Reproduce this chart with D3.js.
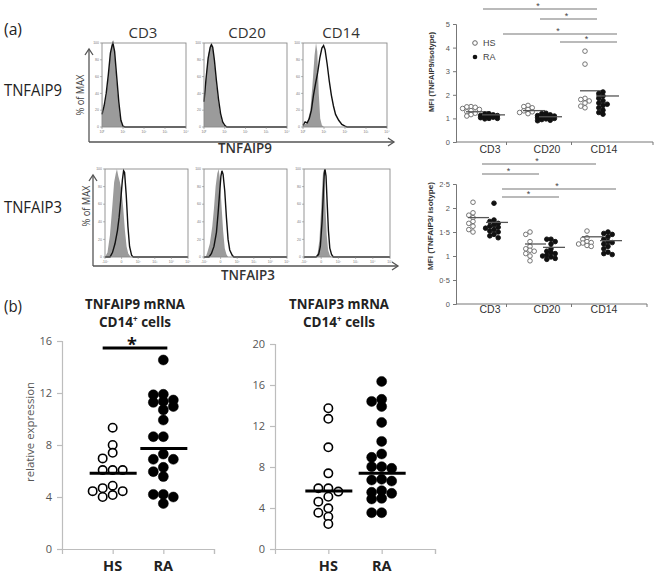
<!DOCTYPE html>
<html><head><meta charset="utf-8">
<script src="https://cdn.jsdelivr.net/npm/d3@7"></script>
<style>body{margin:0;background:#fff}svg{display:block}</style>
</head><body>
<svg id="c" width="658" height="574"></svg>
<script>
// ---------------- DATA ----------------
const cellTypes = ["CD3", "CD20", "CD14"];
const groups = ["HS", "RA"];
// Flow histograms: [decade position, % of max]
const h9_CD3_iso  = [[0,70],[0.02,15],[0.1,22],[0.2,35],[0.3,60],[0.4,85],[0.5,100],[0.58,92],[0.65,70],[0.75,40],[0.85,15],[0.95,3],[1.05,0]];
const h9_CD3_stn  = [[0,15],[0.1,25],[0.2,40],[0.3,62],[0.4,88],[0.48,97],[0.52,100],[0.6,90],[0.7,60],[0.8,30],[0.9,8],[1.0,1],[1.1,0]];
const h9_CD20_iso = [[0,30],[0.1,60],[0.2,85],[0.3,97],[0.36,100],[0.45,90],[0.55,65],[0.65,40],[0.75,20],[0.85,8],[0.95,2],[1.05,0]];
const h9_CD20_stn = [[0,30],[0.1,58],[0.2,82],[0.3,95],[0.36,98],[0.42,95],[0.5,80],[0.6,55],[0.7,33],[0.8,16],[0.9,6],[1.0,2],[1.1,0]];
const h9_CD14_iso = [[0,2],[0.2,5],[0.35,20],[0.45,50],[0.55,85],[0.62,100],[0.68,90],[0.75,40],[0.82,10],[0.9,2],[1.0,0]];
const h9_CD14_stn = [[0,2],[0.1,6],[0.2,5],[0.3,10],[0.4,20],[0.5,38],[0.6,52],[0.7,65],[0.8,82],[0.9,94],[0.98,97],[1.05,92],[1.15,75],[1.25,55],[1.35,38],[1.45,25],[1.55,15],[1.7,8],[1.85,3],[2.0,1],[2.1,0]];
const h3_CD3_iso  = [[0,0],[0.15,5],[0.3,25],[0.45,60],[0.55,85],[0.65,95],[0.72,100],[0.8,92],[0.9,85],[1.0,75],[1.1,55],[1.2,30],[1.3,12],[1.4,4],[1.55,0]];
const h3_CD3_stn  = [[0,0],[0.3,0],[0.45,5],[0.6,15],[0.75,30],[0.85,45],[0.95,65],[1.05,88],[1.12,98],[1.18,96],[1.28,70],[1.38,35],[1.48,12],[1.6,2],[1.7,0]];
const h3_CD20_iso = [[0.1,0],[0.2,5],[0.35,15],[0.5,35],[0.6,55],[0.7,80],[0.8,95],[0.88,100],[0.95,90],[1.05,60],[1.15,30],[1.25,10],[1.35,3],[1.45,0]];
const h3_CD20_stn = [[0,0],[0.3,0],[0.45,4],[0.6,12],[0.75,28],[0.85,50],[0.95,75],[1.02,92],[1.08,98],[1.15,94],[1.25,75],[1.35,45],[1.45,20],[1.55,8],[1.7,2],[1.8,0]];
const h3_CD14_iso = [[0.7,0],[0.8,5],[0.9,20],[1.0,55],[1.07,85],[1.12,100],[1.18,90],[1.25,55],[1.32,25],[1.4,8],[1.5,2],[1.6,0]];
const h3_CD14_stn = [[0,0],[0.7,0],[0.85,3],[0.95,12],[1.05,40],[1.12,70],[1.18,95],[1.22,100],[1.28,92],[1.35,60],[1.42,30],[1.5,10],[1.6,3],[1.7,0]];
const histYTicks = [0, 20, 40, 60, 80, 100];
const hist9XTicks = ["10⁰", "10¹", "10²", "10³", "10⁴"];
const hist3XTicks = ["-10²", "0", "10²", "10³", "10⁴", "10⁵"];

// MFI TNFAIP9 / isotype
const mfi9_HS = {CD3: [1.5,1.49,1.47,1.42,1.38,1.33,1.28,1.22,1.16,1.1],
                 CD20:[1.55,1.5,1.45,1.38,1.32,1.28,1.25,1.2],
                 CD14:[3.85,3.3,1.85,1.8,1.74,1.65,1.52,1.45]};
const mfi9_RA = {CD3: [1.2,1.18,1.15,1.12,1.12,1.1,1.08,1.05,1.03,1.0,1.0,0.98],
                 CD20:[1.22,1.2,1.15,1.12,1.1,1.08,1.07,1.05,1.03,1.0,0.98,0.95,0.92,0.9],
                 CD14:[2.12,2.05,1.95,1.85,1.75,1.65,1.6,1.55,1.45,1.35,1.25,1.18]};
const mfi9_meanHS = {CD3:1.28, CD20:1.33, CD14:2.17};
const mfi9_meanRA = {CD3:1.15, CD20:1.07, CD14:1.95};
const mfi9_ticks = [0,1,2,3,4,5];
// MFI TNFAIP3 / isotype
const mfi3_HS = {CD3: [2.12,1.9,1.85,1.8,1.72,1.68,1.62,1.55,1.5],
                 CD20:[1.5,1.45,1.3,1.2,1.15,1.12,1.1,1.05,1.0,0.9],
                 CD14:[1.52,1.38,1.35,1.3,1.28,1.27,1.25,1.22,1.2]};
const mfi3_RA = {CD3: [2.1,1.75,1.72,1.68,1.65,1.62,1.6,1.58,1.55,1.52,1.5,1.45,1.42,1.38],
                 CD20:[1.35,1.35,1.3,1.25,1.15,1.1,1.07,1.05,1.02,1.0,0.98,0.95,0.93],
                 CD14:[1.5,1.47,1.45,1.4,1.35,1.3,1.28,1.25,1.2,1.15,1.08,1.05,1.03]};
const mfi3_meanHS = {CD3:1.8, CD20:1.25, CD14:1.4};
const mfi3_meanRA = {CD3:1.7, CD20:1.18, CD14:1.32};
const mfi3_ticks = [0,0.5,1,1.5,2,2.5];
const mfi3_tickLabels = ["0","0·5","1","1·5","2","2·5"];
// significance comparisons
const sig9 = [{g:"HS",a:"CD3",b:"CD14"},{g:"HS",a:"CD20",b:"CD14"},{g:"RA",a:"CD3",b:"CD14"},{g:"RA",a:"CD20",b:"CD14"}];
const sig3 = [{g:"HS",a:"CD3",b:"CD14"},{g:"HS",a:"CD3",b:"CD20"},{g:"RA",a:"CD3",b:"CD14"},{g:"RA",a:"CD3",b:"CD20"}];

// qPCR relative expression, CD14+ cells
const p9_HS = [9.33,8.0,7.4,6.97,6.07,6.07,6.07,4.87,4.68,4.45,4.45,4.15,4.0];
const p9_RA = [14.54,11.9,11.86,11.46,11.35,11.28,10.96,10.7,9.92,8.64,8.64,7.3,6.9,6.9,6.28,5.95,5.57,4.2,4.2,4.0,3.5];
const p9_mean = {HS:5.82, RA:7.74};
const p9_ticks = [0,4,8,12,16];
const p3_HS = [13.73,12.7,9.92,7.38,5.92,5.92,5.6,5.1,4.62,3.97,3.54,3.15,2.44];
const p3_RA = [16.35,14.6,14.4,13.9,12.35,10.5,9.27,8.94,8.03,8.03,7.87,6.8,6.73,6.63,5.69,5.53,5.43,4.94,4.88,3.54,3.54];
const p3_mean = {HS:5.66, RA:7.4};
const p3_ticks = [0,4,8,12,16,20];

// ---------------- DRAW ----------------
const svg = d3.select("#c");
const F = "'Open Sans', 'Liberation Sans', sans-serif";
const A = "'Liberation Sans', Arial, sans-serif";

function txt(x, y, s, o = {}) {
  const t = svg.append("text").attr("x", x).attr("y", y).text(s)
    .attr("font-family", o.ff || F).attr("font-size", o.fs || 14)
    .attr("fill", o.fill || "#222").attr("text-anchor", o.anchor || "start")
    .attr("font-weight", o.fw || "normal");
  if (o.len) t.attr("textLength", o.len).attr("lengthAdjust", "spacingAndGlyphs");
  if (o.rot) t.attr("transform", `rotate(-90,${x},${y})`);
  return t;
}

// ---- (a) histograms ----
txt(4, 35, "(a)", {fs: 16, len: 18});
const colCenters = [143, 247, 341];
cellTypes.forEach((c, i) => txt(colCenters[i], 38, c, {fs: 15, anchor: "middle", fill: "#333"}));
txt(4, 96, "TNFAIP9", {fs: 16, fill: "#222", len: 58});
txt(4, 213, "TNFAIP3", {fs: 16, fill: "#222", len: 58});

function arrowAxes(x0, y0, yTop, xEnd) {
  const g = svg.append("g").attr("stroke", "#555").attr("stroke-width", 1.3).attr("fill", "none");
  g.append("line").attr("x1", x0).attr("y1", y0).attr("x2", x0).attr("y2", yTop);
  g.append("path").attr("d", `M${x0-4},${yTop+6}L${x0},${yTop}L${x0+4},${yTop+6}`);
  g.append("line").attr("x1", x0).attr("y1", y0).attr("x2", xEnd).attr("y2", y0);
  g.append("path").attr("d", `M${xEnd-6},${y0-4}L${xEnd},${y0}L${xEnd-6},${y0+4}`);
}
arrowAxes(89, 142, 49, 394);
arrowAxes(93, 266, 175, 398);
txt(80, 95, "% of MAX", {fs: 10, anchor: "middle", rot: true, fill: "#444", len: 41}).attr("dy", "0.35em");
txt(86, 206, "% of MAX", {fs: 10, anchor: "middle", rot: true, fill: "#444", len: 41}).attr("dy", "0.35em");
txt(245, 153, "TNFAIP9", {fs: 14.5, anchor: "middle", fill: "#333", fw: 600, len: 54});
txt(248, 280, "TNFAIP3", {fs: 14.5, anchor: "middle", fill: "#333", fw: 600, len: 54});

function hist(x0, x1, y0, y1, xTicks, iso, stn) {
  const dmax = xTicks.length - 1;
  const xs = d3.scaleLinear([0, dmax], [x0, x1]);
  const ys = d3.scaleLinear([0, 100], [y1, y0]);
  const g = svg.append("g");
  g.append("path").datum(iso)
    .attr("d", d3.area().x(d => xs(d[0])).y0(ys(0)).y1(d => ys(d[1])))
    .attr("fill", "#9b9b9b");
  const line = stn.concat([[dmax, 0]]);
  g.append("path").datum(line)
    .attr("d", d3.line().x(d => xs(d[0])).y(d => ys(d[1])))
    .attr("fill", "none").attr("stroke", "#111").attr("stroke-width", 1.4);
  g.append("rect").attr("x", x0).attr("y", y0).attr("width", x1 - x0).attr("height", y1 - y0)
    .attr("fill", "none").attr("stroke", "#8a8a8a").attr("stroke-width", 0.9);
  histYTicks.forEach(t => {
    g.append("line").attr("x1", x0 - 2).attr("x2", x0).attr("y1", ys(t)).attr("y2", ys(t)).attr("stroke", "#888").attr("stroke-width", 0.6);
    g.append("text").attr("x", x0 - 3).attr("y", ys(t)).attr("dy", "0.35em").attr("text-anchor", "end")
      .attr("font-size", 3.5).attr("font-family", A).attr("fill", "#777").text(t);
  });
  xTicks.forEach((t, i) => {
    g.append("line").attr("x1", xs(i)).attr("x2", xs(i)).attr("y1", y1).attr("y2", y1 + 2).attr("stroke", "#888").attr("stroke-width", 0.6);
    g.append("text").attr("x", xs(i)).attr("y", y1 + 6).attr("text-anchor", "middle")
      .attr("font-size", 3.5).attr("font-family", A).attr("fill", "#777").text(t);
  });
}
hist(102, 186, 43, 127, hist9XTicks, h9_CD3_iso, h9_CD3_stn);
hist(204, 287, 43, 127, hist9XTicks, h9_CD20_iso, h9_CD20_stn);
hist(303, 387, 43, 127, hist9XTicks, h9_CD14_iso, h9_CD14_stn);
hist(105, 188, 169, 257, hist3XTicks, h3_CD3_iso, h3_CD3_stn);
hist(204, 287, 169, 257, hist3XTicks, h3_CD20_iso, h3_CD20_stn);
hist(304, 390, 169, 257, hist3XTicks, h3_CD14_iso, h3_CD14_stn);

// ---- dodge helper ----
function dodge(values, y, minDist, step, slots) {
  const idx = values.map((v, i) => i).sort((a, b) => values[b] - values[a]);
  const placed = [], off = new Array(values.length);
  const cand = [0];
  for (let k = 1; k <= slots; k++) cand.push(-k * step, k * step);
  for (const i of idx) {
    const yy = y(values[i]);
    let best = 0, bestScore = -1;
    for (const c of cand) {
      let md = Infinity;
      for (const p of placed) { const d = Math.hypot(p.x - c, p.y - yy); if (d < md) md = d; }
      if (md >= minDist) { best = c; break; }
      if (md > bestScore) { bestScore = md; best = c; }
    }
    off[i] = best; placed.push({x: best, y: yy});
  }
  return off;
}

// ---- MFI scatter charts ----
function mfiChart(o) {
  const y = d3.scaleLinear(o.yDom, o.yRange);
  const x = d3.scaleBand(cellTypes, [461.5, 632.5]);
  const cx = c => x(c) + x.bandwidth() / 2;
  const g = svg.append("g");
  const ax = g.append("g").attr("transform", `translate(456,0)`)
    .call(d3.axisLeft(y).tickValues(o.ticks).tickSize(3).tickPadding(3).tickFormat((d, i) => o.tickLabels ? o.tickLabels[i] : d));
  ax.select(".domain").attr("stroke", "#777");
  ax.selectAll(".tick line").attr("stroke", "#777");
  ax.selectAll("text").attr("font-family", A).attr("font-size", 7.5).attr("fill", "#555");
  const y0 = y(0);
  g.append("line").attr("x1", 456).attr("x2", o.xEnd).attr("y1", y0).attr("y2", y0).attr("stroke", "#777");
  [x("CD20") - 12, x("CD14") - 4, o.xEnd].forEach(t =>
    g.append("line").attr("x1", t).attr("x2", t).attr("y1", y0).attr("y2", y0 + 3).attr("stroke", "#777"));
  cellTypes.forEach(c => g.append("text").attr("x", cx(c)).attr("y", o.labY).attr("text-anchor", "middle")
    .attr("font-family", A).attr("font-size", 10.5).attr("fill", "#333").text(c));
  txt(o.titleX, o.titleY, o.title, {ff: A, fs: 8, fw: "bold", anchor: "middle", rot: true, fill: "#333", len: o.titleLen});
  cellTypes.forEach(c => {
    [["HS", o.HS[c], o.meanHS[c]], ["RA", o.RA[c], o.meanRA[c]]].forEach(([grp, vals, m]) => {
      const base = cx(c) + o.ptOff[grp];
      const offs = dodge(vals, y, 3.6, 4.2, 2);
      vals.forEach((v, i) => {
        g.append("circle").attr("cx", base + offs[i]).attr("cy", y(v)).attr("r", 2.3)
          .attr("fill", grp === "HS" ? "#fff" : "#111")
          .attr("stroke", grp === "HS" ? "#666" : "#111").attr("stroke-width", 0.9);
      });
      g.append("line").attr("x1", cx(c) + o.lineOff[grp][0]).attr("x2", cx(c) + o.lineOff[grp][1])
        .attr("y1", y(m)).attr("y2", y(m)).attr("stroke", "#555").attr("stroke-width", 1.3);
    });
  });
  o.sig.forEach((s, i) => {
    const x1 = cx(s.a) + o.sigOff[s.g], x2 = cx(s.b) + o.sigOff[s.g], yy = o.sigY[i];
    g.append("line").attr("x1", x1).attr("x2", x2).attr("y1", yy).attr("y2", yy).attr("stroke", "#777").attr("stroke-width", 1.2);
    g.append("text").attr("x", (x1 + x2) / 2 - 2).attr("y", yy - 0.5).attr("text-anchor", "middle")
      .attr("font-family", A).attr("font-size", 9).attr("fill", "#444").text("*");
  });
  return {g, y};
}
const cA = mfiChart({yDom: [0, 5], yRange: [142, 24], ticks: mfi9_ticks, xEnd: 653, labY: 153,
  title: "MFI (TNFAIP9/isotype)", titleX: 434, titleY: 72, titleLen: 80,
  HS: mfi9_HS, RA: mfi9_RA, meanHS: mfi9_meanHS, meanRA: mfi9_meanRA,
  ptOff: {HS: -19, RA: -1}, lineOff: {HS: [-24, -2], RA: [-8, 15]},
  sig: sig9, sigOff: {HS: -7, RA: 13}, sigY: [9, 19, 34, 42]});
// legend
cA.g.append("circle").attr("cx", 475).attr("cy", 43).attr("r", 2.3).attr("fill", "#fff").attr("stroke", "#666");
cA.g.append("circle").attr("cx", 475).attr("cy", 57).attr("r", 2.3).attr("fill", "#111");
txt(483, 46, groups[0], {ff: A, fs: 9, fill: "#444"});
txt(483, 60, groups[1], {ff: A, fs: 9, fill: "#444"});

mfiChart({yDom: [0, 2.5], yRange: [304, 184], ticks: mfi3_ticks, tickLabels: mfi3_tickLabels, xEnd: 647, labY: 313,
  title: "MFI (TNFAIP3/ isotype)", titleX: 433, titleY: 226, titleLen: 88,
  HS: mfi3_HS, RA: mfi3_RA, meanHS: mfi3_meanHS, meanRA: mfi3_meanRA,
  ptOff: {HS: -17, RA: 4}, lineOff: {HS: [-22, -1], RA: [-4, 18]},
  sig: sig3, sigOff: {HS: -8, RA: 12}, sigY: [164, 174, 189, 197]});

// ---- (b) qPCR dot plots ----
txt(4, 312, "(b)", {fs: 16, len: 18});
function titleB(x, gene) {
  txt(x, 309, gene + " mRNA", {fs: 13.5, fw: "bold", anchor: "middle", fill: "#222", len: 100});
  const t = txt(x, 327, "CD14", {fs: 13.5, fw: "bold", anchor: "middle", fill: "#222"});
  t.append("tspan").attr("dy", -5).attr("font-size", 8).text("+");
  t.append("tspan").attr("dy", 5).text(" cells");
}
titleB(135, "TNFAIP9");
titleB(339, "TNFAIP3");

function dotChart(o) {
  const x = d3.scaleLinear([0, 3], o.xr);
  const y = d3.scaleLinear(o.yDom, [549, o.yTop]);
  const g = svg.append("g");
  const ay = g.append("g").attr("transform", `translate(${o.xr[0]},0)`)
    .call(d3.axisLeft(y).tickValues(o.ticks).tickSize(5).tickPadding(5));
  const ax = g.append("g").attr("transform", `translate(0,549)`)
    .call(d3.axisBottom(x).tickValues([1, 2, 3]).tickSize(5).tickFormat(""));
  [ay, ax].forEach(a => {
    a.select(".domain").attr("stroke", "#bdbdbd").attr("stroke-width", 1.2);
    a.selectAll(".tick line").attr("stroke", "#bdbdbd").attr("stroke-width", 1.2);
  });
  ay.selectAll("text").attr("font-family", F).attr("font-size", 11).attr("fill", "#555");
  groups.forEach((grp, gi) => {
    g.append("text").attr("x", x(gi + 1)).attr("y", 571).attr("text-anchor", "middle")
      .attr("font-family", F).attr("font-weight", "bold").attr("font-size", 14.5).attr("fill", "#222").text(grp);
    const vals = grp === "HS" ? o.HS : o.RA;
    const offs = dodge(vals, y, 6, 10, 2);
    vals.forEach((v, i) => {
      g.append("circle").attr("cx", x(gi + 1) + offs[i]).attr("cy", y(v))
        .attr("r", grp === "HS" ? 4.2 : 5)
        .attr("fill", grp === "HS" ? "#fff" : "#000")
        .attr("stroke", "#000").attr("stroke-width", grp === "HS" ? 1.6 : 0.5);
    });
    g.append("line").attr("x1", x(gi + 1) - 23).attr("x2", x(gi + 1) + 24)
      .attr("y1", y(o.mean[grp])).attr("y2", y(o.mean[grp])).attr("stroke", "#000").attr("stroke-width", 3);
  });
  return {g, x, y};
}
const b1 = dotChart({xr: [62, 214], yDom: [0, 16], yTop: 341, ticks: p9_ticks, HS: p9_HS, RA: p9_RA, mean: p9_mean});
dotChart({xr: [275, 435], yDom: [0, 20], yTop: 344, ticks: p3_ticks, HS: p3_HS, RA: p3_RA, mean: p3_mean});
txt(30, 432, "relative expression", {fs: 11.5, anchor: "middle", rot: true, fill: "#555", len: 100}).attr("dy", "0.35em");
// significance bar (HS vs RA)
b1.g.append("line").attr("x1", b1.x(1) - 10).attr("x2", b1.x(2) + 4).attr("y1", 348).attr("y2", 348)
  .attr("stroke", "#000").attr("stroke-width", 3);
b1.g.append("text").attr("x", (b1.x(1) + b1.x(2)) / 2 - 6).attr("y", 351).attr("text-anchor", "middle")
  .attr("font-family", F).attr("font-weight", "bold").attr("font-size", 18).attr("fill", "#111").text("*");
</script>
</body></html>
